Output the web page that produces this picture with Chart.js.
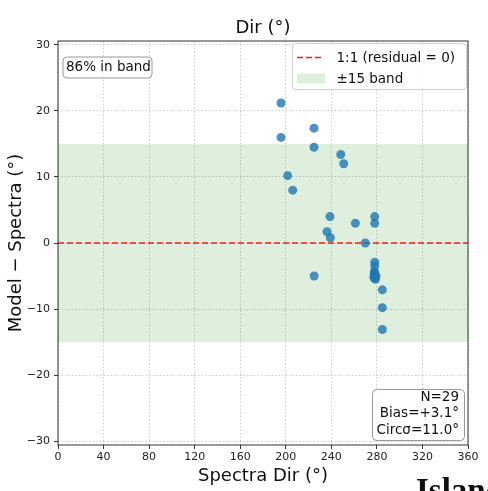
<!DOCTYPE html>
<html>
<head>
<meta charset="utf-8">
<script src="https://cdn.jsdelivr.net/npm/chart.js@4"></script>
<style>
  html, body { margin: 0; padding: 0; background: #fff; }
  #wrap { position: relative; width: 488px; height: 491px; overflow: hidden; }
  #chart { display: block; }
  #frag { position: absolute; left: 416px; top: 474px; font: bold 33px "Liberation Serif", serif; line-height: 1; color: #111; white-space: nowrap; }
</style>
</head>
<body>
<div id="wrap">
  <canvas id="chart" width="488" height="491"></canvas>
  <div id="frag">Island</div>
</div>
<script>
// ---------------------------------------------------------------
// DATA
// ---------------------------------------------------------------

const spectraDir = [
  195.8, 195.8, 201.7, 206.1, 224.8, 224.8, 224.9, 248.3, 250.9, 238.8,
  236.2, 239.1, 261.1, 269.8, 278.1, 278.1, 278.1, 278.1, 277.8, 277.8,
  279.2, 277.6, 278.4, 277.4, 278.8, 277.9, 284.8, 284.8, 284.8
];
const residual = [
  21.2, 16.0, 10.2, 8.0, 17.4, 14.5, -5.0, 13.4, 12.0, 4.0,
  1.7, 0.8, 3.0, 0.0, 4.0, 3.0, -2.9, -3.5, -4.3, -4.7,
  -5.0, -5.3, -4.9, -5.1, -5.5, -4.6, -7.1, -9.8, -13.1
];
const xTicks = [0, 40, 80, 120, 160, 200, 240, 280, 320, 360];
const yTicks = [-30, -20, -10, 0, 10, 20, 30];
const bandLimit = 15;
const xRange = [0, 360];
const yRange = [-30.6, 30.6];
const statsLines = ['N=29', 'Bias=+3.1°', 'Circσ=11.0°'];
const bandNote = '86% in band';

// ---------------------------------------------------------------
// STYLE
// ---------------------------------------------------------------

const FONT = '"DejaVu Sans", sans-serif';
const pointColor = 'rgba(31,119,180,0.8)';
const bandColor = 'rgba(0,128,0,0.13)';
const zeroColor = 'rgba(255,0,0,0.9)';
const zeroDash = [6, 3];

const points = spectraDir.map((x, i) => ({ x, y: residual[i] }));

function roundBox(ctx, x, y, w, h, r, fill, stroke) {
  ctx.beginPath();
  ctx.moveTo(x + r, y);
  ctx.arcTo(x + w, y, x + w, y + h, r);
  ctx.arcTo(x + w, y + h, x, y + h, r);
  ctx.arcTo(x, y + h, x, y, r);
  ctx.arcTo(x, y, x + w, y, r);
  ctx.closePath();
  ctx.fillStyle = fill;
  ctx.fill();
  ctx.strokeStyle = stroke;
  ctx.lineWidth = 1;
  ctx.stroke();
}

// frame, titles, legend and text boxes
const decorations = {
  id: 'decorations',
  afterDraw(chart) {
    const { ctx, chartArea: a } = chart;
    ctx.save();

    // spines
    ctx.strokeStyle = '#333';
    ctx.lineWidth = 1;
    ctx.setLineDash([]);
    ctx.strokeRect(a.left, a.top, a.right - a.left, a.bottom - a.top);

    const cx = (a.left + a.right) / 2;
    ctx.fillStyle = '#111';
    ctx.font = '18px ' + FONT;
    ctx.textAlign = 'center';
    ctx.textBaseline = 'alphabetic';
    ctx.fillText('Dir (°)', cx, 33);
    ctx.fillText('Spectra Dir (°)', cx, 481);

    ctx.save();
    ctx.translate(21, (a.top + a.bottom) / 2);
    ctx.rotate(-Math.PI / 2);
    ctx.fillText('Model − Spectra (°)', 0, 0);
    ctx.restore();

    // legend
    roundBox(ctx, 292.5, 43.5, 174, 46, 3, 'rgba(255,255,255,0.85)', '#cfcfcf');
    ctx.strokeStyle = zeroColor;
    ctx.lineWidth = 1.6;
    ctx.setLineDash(zeroDash);
    ctx.beginPath();
    ctx.moveTo(297, 57.5);
    ctx.lineTo(324, 57.5);
    ctx.stroke();
    ctx.setLineDash([]);
    ctx.fillStyle = bandColor;
    ctx.fillRect(297, 73.5, 28, 10);
    ctx.fillStyle = '#111';
    ctx.font = '13.5px ' + FONT;
    ctx.textAlign = 'left';
    ctx.textBaseline = 'middle';
    ctx.fillText('1:1 (residual = 0)', 336.5, 58);
    ctx.fillText('±15 band', 336.5, 79);

    // band share note
    roundBox(ctx, 63, 57, 89, 21, 4, 'rgba(255,255,255,0.85)', '#999');
    ctx.fillStyle = '#111';
    ctx.fillText(bandNote, 66, 67.5);

    // stats box
    roundBox(ctx, 372.5, 389.5, 92, 51, 4, 'rgba(255,255,255,0.85)', '#999');
    ctx.fillStyle = '#111';
    ctx.textAlign = 'right';
    statsLines.forEach((t, i) => ctx.fillText(t, 459, 397 + i * 16.7));

    ctx.restore();
  }
};

const minus = (v) => String(v).replace('-', '\u2212');

new Chart(document.getElementById('chart'), {
  type: 'scatter',
  data: {
    datasets: [
      {
        label: 'band top',
        data: xRange.map((x) => ({ x, y: bandLimit })),
        showLine: true,
        borderWidth: 0,
        borderColor: 'rgba(0,0,0,0)',
        backgroundColor: bandColor,
        pointRadius: 0,
        fill: '+1',
        order: 3
      },
      {
        label: 'band bottom',
        data: xRange.map((x) => ({ x, y: -bandLimit })),
        showLine: true,
        borderWidth: 0,
        borderColor: 'rgba(0,0,0,0)',
        pointRadius: 0,
        fill: false,
        order: 3
      },
      {
        label: '1:1 (residual = 0)',
        data: xRange.map((x) => ({ x, y: 0 })),
        showLine: true,
        borderColor: zeroColor,
        borderWidth: 1.6,
        borderDash: zeroDash,
        pointRadius: 0,
        fill: false,
        order: 2
      },
      {
        label: 'points',
        data: points,
        backgroundColor: pointColor,
        borderWidth: 0,
        pointRadius: 4.5,
        order: 1
      }
    ]
  },
  options: {
    responsive: false,
    animation: false,
    devicePixelRatio: 1,
    layout: { padding: { top: 41, right: 20, left: 0, bottom: 0 } },
    plugins: { legend: { display: false }, tooltip: { enabled: false }, title: { display: false } },
    scales: {
      x: {
        type: 'linear',
        min: xRange[0],
        max: xRange[1],
        afterBuildTicks: (s) => { s.ticks = xTicks.map((value) => ({ value })); },
        afterFit: (s) => { s.height = 46; },
        grid: { color: 'rgba(0,0,0,0.25)', lineWidth: 0.8, tickLength: 4, tickColor: '#333', tickWidth: 1, tickBorderDash: [] },
        border: { display: false, dash: [1.5, 2] },
        ticks: { font: { family: FONT, size: 11 }, color: '#222', padding: 2, maxRotation: 0, callback: minus }
      },
      y: {
        type: 'linear',
        min: yRange[0],
        max: yRange[1],
        afterBuildTicks: (s) => { s.ticks = yTicks.map((value) => ({ value })); },
        afterFit: (s) => { s.width = 58; },
        grid: { color: 'rgba(0,0,0,0.25)', lineWidth: 0.8, tickLength: 4, tickColor: '#333', tickWidth: 1, tickBorderDash: [] },
        border: { display: false, dash: [1.5, 2] },
        ticks: { font: { family: FONT, size: 11 }, color: '#222', padding: 4, callback: minus }
      }
    }
  },
  plugins: [decorations]
});
</script>
</body>
</html>
